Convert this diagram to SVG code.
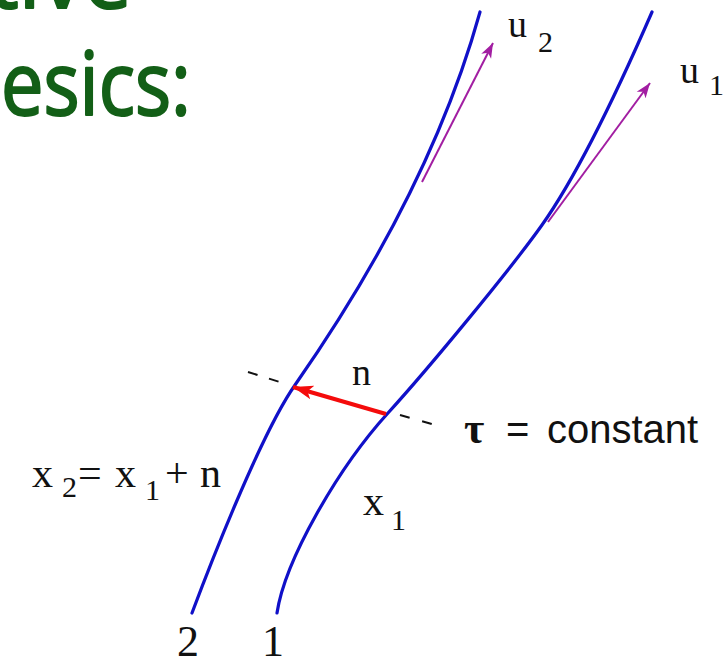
<svg xmlns="http://www.w3.org/2000/svg" width="728" height="662" viewBox="0 0 728 662">
  <style>
    .title { font-family: "Comic Sans MS", "Open Sans", "DejaVu Sans", sans-serif; fill: #135f17; stroke: #135f17; stroke-width: 2.2; stroke-linejoin: round; }
    .wl { fill: none; stroke: #1010c8; stroke-width: 3.2; stroke-linecap: round; }
    .lbl { font-family: "Liberation Serif", "Times New Roman", serif; fill: #111; }
    .lbls { font-family: "Liberation Sans", Arial, sans-serif; fill: #111; }
    .vel { stroke: #a21ea2; stroke-width: 2; fill: none; }
    .sep { stroke: #111; stroke-width: 2; fill: none; }
    .nvec { stroke: #f40b0b; stroke-width: 4; fill: none; }
  </style>
  <defs>
    <marker id="headRed" markerUnits="userSpaceOnUse" markerWidth="22" markerHeight="16" refX="20" refY="8" orient="auto">
      <path d="M0,1 L20,8 L0,15 L5,8 Z" fill="#f40b0b"/>
    </marker>
    <marker id="headPurple" markerUnits="userSpaceOnUse" markerWidth="16" markerHeight="12" refX="15" refY="6" orient="auto">
      <path d="M0,0.5 L15,6 L0,11.5 L4,6 Z" fill="#a21ea2"/>
    </marker>
  </defs>

  <g id="title">
    <text class="title" x="-12" y="8" font-size="88" textLength="144" lengthAdjust="spacingAndGlyphs">tive</text>
    <text class="title" x="1" y="115" font-size="88" textLength="190" lengthAdjust="spacingAndGlyphs">esics:</text>
  </g>

  <g id="worldline-2">
    <path class="wl" d="M192,613 C207,573 260,435 295,385 C392,246 450,120 480,12"/>
    <text class="lbl" x="177" y="656" font-size="44">2</text>
  </g>

  <g id="worldline-1">
    <path class="wl" d="M277,613 C285,560 338,468 388,413 C428,369 510,270 542,225 C583,167 632,58 652,12"/>
    <text class="lbl" x="262" y="656" font-size="44">1</text>
  </g>

  <g id="connectors">
    <line class="vel" x1="422" y1="182" x2="493" y2="43" marker-end="url(#headPurple)"/>
    <line class="vel" x1="548" y1="222" x2="650" y2="83" marker-end="url(#headPurple)"/>
    <line class="sep" x1="248" y1="372" x2="283" y2="383" stroke-dasharray="10 12"/>
    <line class="sep" x1="400" y1="415" x2="435" y2="425" stroke-dasharray="10 13"/>
    <line class="nvec" x1="386" y1="414" x2="293" y2="387" marker-end="url(#headRed)"/>
  </g>

  <g id="labels">
    <text class="lbl" font-size="38"><tspan x="508" y="37">u</tspan><tspan x="538" y="52" font-size="30">2</tspan></text>
    <text class="lbl" font-size="38"><tspan x="680" y="83">u</tspan><tspan x="709" y="95" font-size="30">1</tspan></text>
    <text class="lbl" x="352" y="385" font-size="38">n</text>
    <text font-size="40"><tspan class="lbl" x="464" y="443" font-size="44" font-weight="bold">τ </tspan><tspan class="lbls" x="506" y="443">= </tspan><tspan class="lbls" x="547" y="443">constant</tspan></text>
    <text class="lbl" font-size="42"><tspan x="32" y="487">x</tspan><tspan x="62" y="497" font-size="30">2</tspan><tspan x="78" y="487">=</tspan><tspan x="115" y="487">x</tspan><tspan x="145" y="500" font-size="30">1</tspan><tspan x="165" y="487">+</tspan><tspan x="200" y="487">n</tspan></text>
    <text class="lbl" font-size="42"><tspan x="363" y="515">x</tspan><tspan x="391" y="530" font-size="30">1</tspan></text>
  </g>
</svg>
